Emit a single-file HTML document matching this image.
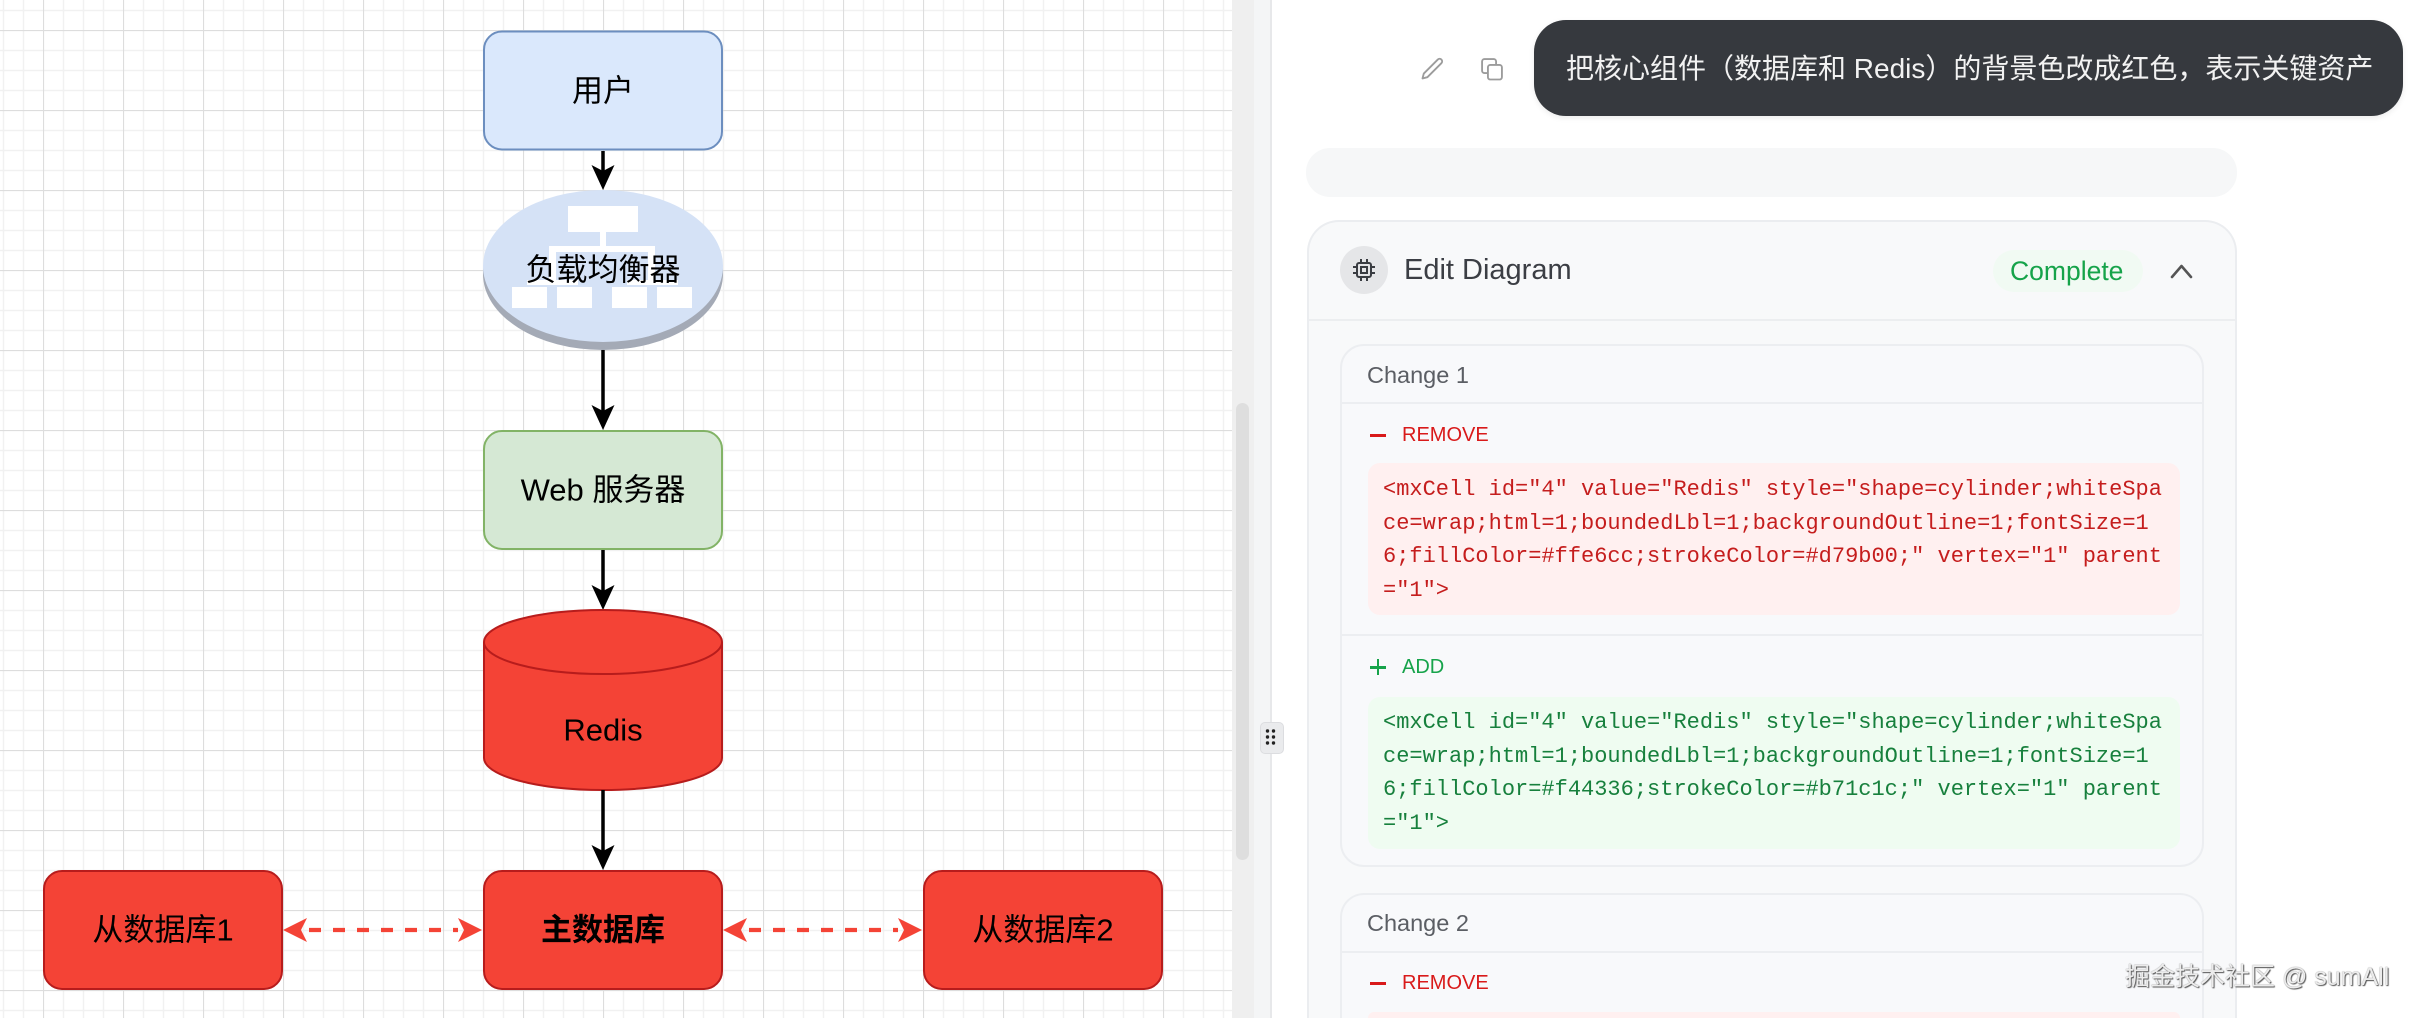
<!DOCTYPE html>
<html>
<head>
<meta charset="utf-8">
<style>
  html,body{margin:0;padding:0;width:2418px;height:1018px;overflow:hidden;background:#ffffff;}
  #root{position:relative;width:2418px;height:1018px;overflow:hidden;background:#ffffff;
       font-family:"Liberation Sans","Noto Sans CJK SC",sans-serif;}
  .abs{position:absolute;}
  .code{position:absolute;font-family:"Liberation Mono","Noto Sans CJK SC",monospace;font-size:22px;line-height:33.5px;white-space:pre;}
</style>
</head>
<body>
<div id="root">

<!-- ============ CANVAS ============ -->
<svg class="abs" style="left:0;top:0" width="1232" height="1018" viewBox="0 0 1232 1018" xmlns="http://www.w3.org/2000/svg">
  <defs>
    <pattern id="grid" x="43" y="30" width="80" height="80" patternUnits="userSpaceOnUse">
      <path d="M20.5 0V80M40.5 0V80M60.5 0V80M0 20.5H80M0 40.5H80M0 60.5H80" stroke="#f1f1f1" stroke-width="1.5" fill="none"/>
      <path d="M0.5 0V80M0 0.5H80" stroke="#dddddd" stroke-width="1.2" fill="none"/>
    </pattern>
  </defs>
  <rect x="0" y="0" width="1232" height="1018" fill="#ffffff"/>
  <rect x="0" y="0" width="1232" height="1018" fill="url(#grid)"/>

  <g font-family="Liberation Sans, Noto Sans CJK SC, sans-serif" font-size="31" fill="#000" text-anchor="middle" dominant-baseline="central">
    <!-- User -->
    <rect x="484" y="31.5" width="238" height="118" rx="18" fill="#dae8fc" stroke="#6c8ebf" stroke-width="2"/>
    <text x="603" y="91">用户</text>

    <!-- arrow user -> LB -->
    <line x1="603" y1="151" x2="603" y2="174" stroke="#000" stroke-width="3.5"/>
    <polygon points="603,190 591.5,165 603,171 614.5,165" fill="#000"/>

    <!-- Load balancer -->
    <ellipse cx="603" cy="274" rx="120" ry="76" fill="#a4aab6"/>
    <ellipse cx="603" cy="266" rx="120" ry="76" fill="#d5e2f6"/>
    <g fill="#ffffff">
      <rect x="568" y="206" width="70" height="26"/>
      <rect x="600" y="231" width="6" height="18"/>
      <rect x="549" y="246" width="106" height="6"/>
      <rect x="549" y="246" width="7" height="36"/>
      <rect x="648" y="246" width="7" height="36"/>
      <rect x="527" y="280" width="51" height="5"/>
      <rect x="627" y="280" width="51" height="5"/>
      <rect x="512" y="287" width="35" height="21"/>
      <rect x="557" y="287" width="35" height="21"/>
      <rect x="612" y="287" width="35" height="21"/>
      <rect x="657" y="287" width="35" height="21"/>
    </g>
    <text x="603" y="270">负载均衡器</text>

    <!-- arrow LB -> Web -->
    <line x1="603" y1="350" x2="603" y2="414" stroke="#000" stroke-width="3.5"/>
    <polygon points="603,430 591.5,405 603,411 614.5,405" fill="#000"/>

    <!-- Web -->
    <rect x="484" y="431" width="238" height="118" rx="18" fill="#d5e8d4" stroke="#82b366" stroke-width="2"/>
    <text x="603" y="490">Web 服务器</text>

    <!-- arrow Web -> Redis -->
    <line x1="603" y1="550" x2="603" y2="594" stroke="#000" stroke-width="3.5"/>
    <polygon points="603,610 591.5,585 603,591 614.5,585" fill="#000"/>

    <!-- Redis cylinder -->
    <path d="M484,642 A119,32 0 0 1 722,642 V758 A119,32 0 0 1 484,758 Z" fill="#f44336" stroke="#b71c1c" stroke-width="2"/>
    <path d="M484,642 A119,32 0 0 0 722,642" fill="none" stroke="#b71c1c" stroke-width="2"/>
    <text x="603" y="730">Redis</text>

    <!-- arrow Redis -> main -->
    <line x1="603" y1="790" x2="603" y2="854" stroke="#000" stroke-width="3.5"/>
    <polygon points="603,870 591.5,845 603,851 614.5,845" fill="#000"/>

    <!-- DB boxes -->
    <rect x="44" y="871" width="238" height="118" rx="18" fill="#f44336" stroke="#b71c1c" stroke-width="2"/>
    <text x="163" y="930">从数据库1</text>
    <rect x="484" y="871" width="238" height="118" rx="18" fill="#f44336" stroke="#b71c1c" stroke-width="2"/>
    <text x="603" y="930" font-weight="bold">主数据库</text>
    <rect x="924" y="871" width="238" height="118" rx="18" fill="#f44336" stroke="#b71c1c" stroke-width="2"/>
    <text x="1043" y="930">从数据库2</text>

    <!-- dashed connectors -->
    <line x1="309" y1="930" x2="458" y2="930" stroke="#f44336" stroke-width="4.3" stroke-dasharray="12 12"/>
    <polygon points="283,930 307,918 301,930 307,942" fill="#f44336"/>
    <polygon points="482,930 458,918 464,930 458,942" fill="#f44336"/>
    <line x1="749" y1="930" x2="898" y2="930" stroke="#f44336" stroke-width="4.3" stroke-dasharray="12 12"/>
    <polygon points="723,930 747,918 741,930 747,942" fill="#f44336"/>
    <polygon points="922,930 898,918 904,930 898,942" fill="#f44336"/>
  </g>
</svg>

<!-- ============ SCROLLBAR / DIVIDER ============ -->
<div class="abs" style="left:1232px;top:0;width:22px;height:1018px;background:#efefef;"></div>
<div class="abs" style="left:1236px;top:403px;width:13px;height:457px;border-radius:7px;background:#dedede;"></div>
<div class="abs" style="left:1254px;top:0;width:16px;height:1018px;background:#f4f5f6;"></div>
<div class="abs" style="left:1270px;top:0;width:2px;height:1018px;background:#e7e8ea;"></div>
<div class="abs" style="left:1260px;top:722px;width:22px;height:30px;border-radius:5px;background:#eaebed;border:1px solid #dcdde0;"></div>
<svg class="abs" style="left:1260px;top:722px" width="24" height="32">
  <g fill="#222">
    <circle cx="7.5" cy="9" r="1.7"/><circle cx="13.5" cy="9" r="1.7"/>
    <circle cx="7.5" cy="15" r="1.7"/><circle cx="13.5" cy="15" r="1.7"/>
    <circle cx="7.5" cy="21" r="1.7"/><circle cx="13.5" cy="21" r="1.7"/>
  </g>
</svg>

<!-- ============ RIGHT PANEL ============ -->
<!-- pencil -->
<svg class="abs" style="left:1418px;top:55px" width="30" height="28" viewBox="0 0 24 24">
  <path d="M16.2 3.8a2.2 2.2 0 0 1 3.1 3.1L7.2 19l-4.2 1.1 1.1-4.2Z" fill="none" stroke="#9c9c9c" stroke-width="1.6" stroke-linejoin="round"/>
</svg>
<!-- copy -->
<svg class="abs" style="left:1477px;top:55px" width="30" height="28" viewBox="0 0 24 24">
  <rect x="8.5" y="8.5" width="12" height="12.5" rx="2" fill="none" stroke="#9c9c9c" stroke-width="1.6"/>
  <path d="M15.5 8.5V5.5a2 2 0 0 0-2-2H5.5a2 2 0 0 0-2 2v8a2 2 0 0 0 2 2h3" fill="none" stroke="#9c9c9c" stroke-width="1.6"/>
</svg>

<!-- user bubble -->
<div class="abs" style="left:1534px;top:20px;width:869px;height:96px;border-radius:32px;background:#36393e;box-shadow:0 2px 6px rgba(0,0,0,0.08);"></div>
<div class="abs" style="left:1566px;top:48px;height:42px;line-height:42px;font-size:28px;color:#f2f2f2;white-space:nowrap;">把核心组件（数据库和 Redis）的背景色改成红色，表示关键资产</div>

<!-- empty bar -->
<div class="abs" style="left:1306px;top:148px;width:931px;height:49px;border-radius:24px;background:#f6f7f8;"></div>

<!-- outer card (runs to frame bottom) -->
<div class="abs" style="left:1307px;top:220px;width:926px;height:796px;border-radius:32px 32px 0 0;background:#f8f9fa;border:2px solid #ebedf0;border-bottom:none;"></div>
<div class="abs" style="left:1309px;top:319px;width:926px;height:2px;background:#eceef0;"></div>

<!-- header -->
<div class="abs" style="left:1340px;top:246px;width:48px;height:48px;border-radius:24px;background:#e5e6e8;"></div>
<svg class="abs" style="left:1351px;top:257px" width="26" height="26" viewBox="0 0 26 26">
  <rect x="6" y="6" width="14" height="14" rx="2" fill="none" stroke="#3a3d42" stroke-width="2"/>
  <rect x="10" y="10" width="6" height="6" fill="none" stroke="#3a3d42" stroke-width="2"/>
  <g stroke="#3a3d42" stroke-width="2">
    <path d="M10 2v4M16 2v4M10 20v4M16 20v4M2 10h4M2 16h4M20 10h4M20 16h4"/>
  </g>
</svg>
<div class="abs" style="left:1404px;top:250px;height:40px;line-height:40px;font-size:29px;color:#3b3e44;white-space:nowrap;">Edit Diagram</div>
<div class="abs" style="left:1993px;top:250px;width:150px;height:42px;border-radius:21px;background:#f1faf3;"></div>
<div class="abs" style="left:2010px;top:251px;height:40px;line-height:40px;font-size:26.5px;color:#16a34a;white-space:nowrap;">Complete</div>
<svg class="abs" style="left:2168px;top:260px" width="28" height="22">
  <polyline points="4,17 13.5,6 23,17" fill="none" stroke="#555" stroke-width="2.6" stroke-linecap="round" stroke-linejoin="round"/>
</svg>

<!-- Change 1 card -->
<div class="abs" style="left:1340px;top:344px;width:860px;height:519px;border-radius:24px;background:#f8f9fb;border:2px solid #eceef1;"></div>
<div class="abs" style="left:1367px;top:357px;height:36px;line-height:36px;font-size:23.5px;color:#5b5e64;white-space:nowrap;">Change 1</div>
<div class="abs" style="left:1342px;top:402px;width:860px;height:2px;background:#eceef1;"></div>
<div class="abs" style="left:1370px;top:434px;width:16px;height:2.5px;background:#d91a1a;"></div>
<div class="abs" style="left:1402px;top:420px;height:30px;line-height:30px;font-size:20px;color:#d91a1a;white-space:nowrap;">REMOVE</div>
<div class="abs" style="left:1368px;top:463px;width:812px;height:152px;border-radius:12px;background:#fff0f0;"></div>
<div class="code" style="left:1383px;top:473px;color:#c51d1d;">&lt;mxCell id="4" value="Redis" style="shape=cylinder;whiteSpa
ce=wrap;html=1;boundedLbl=1;backgroundOutline=1;fontSize=1
6;fillColor=#ffe6cc;strokeColor=#d79b00;" vertex="1" parent
="1"&gt;</div>
<div class="abs" style="left:1342px;top:634px;width:860px;height:2px;background:#eceef1;"></div>
<div class="abs" style="left:1370px;top:666px;width:16px;height:2.5px;background:#16a34a;"></div>
<div class="abs" style="left:1376.75px;top:659px;width:2.5px;height:16px;background:#16a34a;"></div>
<div class="abs" style="left:1402px;top:652px;height:30px;line-height:30px;font-size:20px;color:#16a34a;white-space:nowrap;">ADD</div>
<div class="abs" style="left:1368px;top:697px;width:812px;height:152px;border-radius:12px;background:#effcf1;"></div>
<div class="code" style="left:1383px;top:706px;color:#17803d;">&lt;mxCell id="4" value="Redis" style="shape=cylinder;whiteSpa
ce=wrap;html=1;boundedLbl=1;backgroundOutline=1;fontSize=1
6;fillColor=#f44336;strokeColor=#b71c1c;" vertex="1" parent
="1"&gt;</div>

<!-- Change 2 card (runs to frame bottom) -->
<div class="abs" style="left:1340px;top:893px;width:860px;height:123px;border-radius:24px 24px 0 0;background:#f8f9fb;border:2px solid #eceef1;border-bottom:none;"></div>
<div class="abs" style="left:1367px;top:905px;height:36px;line-height:36px;font-size:23.5px;color:#5b5e64;white-space:nowrap;">Change 2</div>
<div class="abs" style="left:1342px;top:951px;width:860px;height:2px;background:#eceef1;"></div>
<div class="abs" style="left:1370px;top:982px;width:16px;height:2.5px;background:#d91a1a;"></div>
<div class="abs" style="left:1402px;top:968px;height:30px;line-height:30px;font-size:20px;color:#d91a1a;white-space:nowrap;">REMOVE</div>
<div class="abs" style="left:1368px;top:1012px;width:812px;height:6px;border-radius:6px 6px 0 0;background:#fff0f0;"></div>

<!-- watermark -->
<div class="abs" style="left:2125px;top:960px;height:34px;line-height:34px;font-size:25px;color:#ececec;white-space:nowrap;text-shadow:1px 1px 1px #555, 0 0 1px #777;">掘金技术社区 @ sumAll</div>

</div>
</body>
</html>
